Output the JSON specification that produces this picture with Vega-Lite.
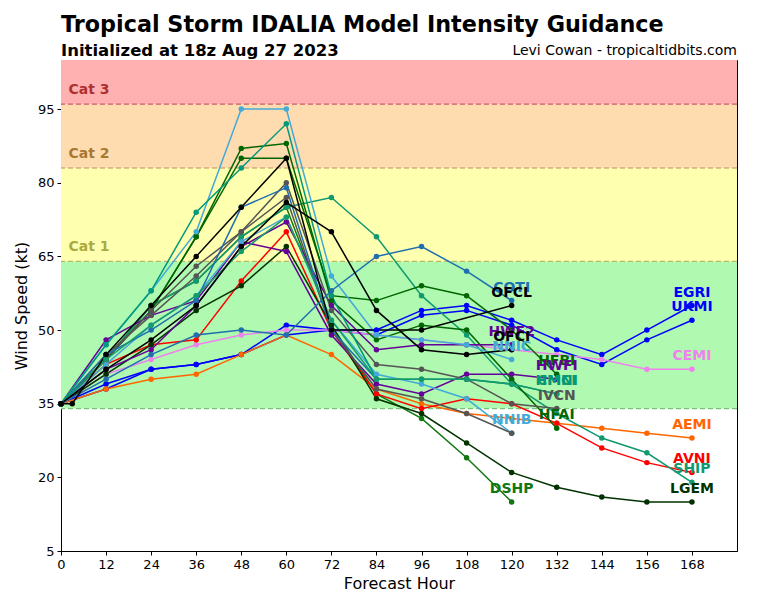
{
"$schema": "https://vega.github.io/schema/vega-lite/v6.json",
"width": 676, "height": 491,
"autosize": {"type": "none"},
"padding": {"left": 61, "top": 60, "right": 31, "bottom": 49},
"background": "white",
"config": {
  "font": "DejaVu Sans",
  "view": {"stroke": "black", "strokeWidth": 1},
  "axis": {"grid": false, "domainColor": "black", "tickColor": "black", "labelColor": "black", "titleColor": "black", "labelFontSize": 13, "titleFontSize": 16, "titleFontWeight": "normal", "tickSize": 4, "labelPadding": 3, "labelFlush": false, "labelOverlap": false}
},
"title": {"text": "Tropical Storm IDALIA Model Intensity Guidance", "subtitle": "Initialized at 18z Aug 27 2023", "anchor": "start", "frame": "group", "fontSize": 22.3, "fontWeight": "bold", "color": "black", "subtitleFontSize": 16.5, "subtitleFontWeight": "bold", "subtitleColor": "black", "offset": -15, "subtitlePadding": 6},
"datasets": {
  "bands": [
    {"band": "TS", "lo": 34, "hi": 64},
    {"band": "Cat 1", "lo": 64, "hi": 83},
    {"band": "Cat 2", "lo": 83, "hi": 96},
    {"band": "Cat 3", "lo": 96, "hi": 105}
  ],
  "lines": [
    {"m":"DSHP","h":0,"v":35},{"m":"DSHP","h":12,"v":44},{"m":"DSHP","h":24,"v":55},{"m":"DSHP","h":36,"v":60},{"m":"DSHP","h":48,"v":69},{"m":"DSHP","h":60,"v":75},{"m":"DSHP","h":72,"v":51},{"m":"DSHP","h":84,"v":37},{"m":"DSHP","h":96,"v":32},{"m":"DSHP","h":108,"v":24},{"m":"DSHP","h":120,"v":15},
    {"m":"EGRI","h":0,"v":35},{"m":"EGRI","h":12,"v":39},{"m":"EGRI","h":24,"v":42},{"m":"EGRI","h":36,"v":43},{"m":"EGRI","h":48,"v":45},{"m":"EGRI","h":60,"v":51},{"m":"EGRI","h":72,"v":50},{"m":"EGRI","h":84,"v":50},{"m":"EGRI","h":96,"v":54},{"m":"EGRI","h":108,"v":55},{"m":"EGRI","h":120,"v":52},{"m":"EGRI","h":132,"v":48},{"m":"EGRI","h":144,"v":45},{"m":"EGRI","h":156,"v":50},{"m":"EGRI","h":168,"v":55},
    {"m":"UKMI","h":0,"v":35},{"m":"UKMI","h":12,"v":38},{"m":"UKMI","h":24,"v":42},{"m":"UKMI","h":36,"v":43},{"m":"UKMI","h":48,"v":45},{"m":"UKMI","h":60,"v":49},{"m":"UKMI","h":72,"v":50},{"m":"UKMI","h":84,"v":49},{"m":"UKMI","h":96,"v":53},{"m":"UKMI","h":108,"v":54},{"m":"UKMI","h":120,"v":51},{"m":"UKMI","h":132,"v":46},{"m":"UKMI","h":144,"v":43},{"m":"UKMI","h":156,"v":48},{"m":"UKMI","h":168,"v":52},
    {"m":"CEMI","h":0,"v":35},{"m":"CEMI","h":12,"v":41},{"m":"CEMI","h":24,"v":44},{"m":"CEMI","h":36,"v":47},{"m":"CEMI","h":48,"v":49},{"m":"CEMI","h":60,"v":50},{"m":"CEMI","h":72,"v":50},{"m":"CEMI","h":84,"v":49},{"m":"CEMI","h":96,"v":48},{"m":"CEMI","h":108,"v":47},{"m":"CEMI","h":120,"v":46},{"m":"CEMI","h":132,"v":45},{"m":"CEMI","h":144,"v":44},{"m":"CEMI","h":156,"v":42},{"m":"CEMI","h":168,"v":42},
    {"m":"AEMI","h":0,"v":35},{"m":"AEMI","h":12,"v":38},{"m":"AEMI","h":24,"v":40},{"m":"AEMI","h":36,"v":41},{"m":"AEMI","h":48,"v":45},{"m":"AEMI","h":60,"v":49},{"m":"AEMI","h":72,"v":45},{"m":"AEMI","h":84,"v":38},{"m":"AEMI","h":96,"v":35},{"m":"AEMI","h":108,"v":33},{"m":"AEMI","h":120,"v":32},{"m":"AEMI","h":132,"v":31},{"m":"AEMI","h":144,"v":30},{"m":"AEMI","h":156,"v":29},{"m":"AEMI","h":168,"v":28},
    {"m":"AVNI","h":0,"v":35},{"m":"AVNI","h":12,"v":43},{"m":"AVNI","h":24,"v":47},{"m":"AVNI","h":36,"v":48},{"m":"AVNI","h":48,"v":60},{"m":"AVNI","h":60,"v":70},{"m":"AVNI","h":72,"v":50},{"m":"AVNI","h":84,"v":37},{"m":"AVNI","h":96,"v":34},{"m":"AVNI","h":108,"v":36},{"m":"AVNI","h":120,"v":35},{"m":"AVNI","h":132,"v":31},{"m":"AVNI","h":144,"v":26},{"m":"AVNI","h":156,"v":23},{"m":"AVNI","h":168,"v":21},
    {"m":"SHIP","h":0,"v":35},{"m":"SHIP","h":12,"v":44},{"m":"SHIP","h":24,"v":55},{"m":"SHIP","h":36,"v":60},{"m":"SHIP","h":48,"v":69},{"m":"SHIP","h":60,"v":75},{"m":"SHIP","h":72,"v":77},{"m":"SHIP","h":84,"v":69},{"m":"SHIP","h":96,"v":57},{"m":"SHIP","h":108,"v":49},{"m":"SHIP","h":120,"v":39},{"m":"SHIP","h":132,"v":33},{"m":"SHIP","h":144,"v":28},{"m":"SHIP","h":156,"v":25},{"m":"SHIP","h":168,"v":19},
    {"m":"LGEM","h":0,"v":35},{"m":"LGEM","h":12,"v":41},{"m":"LGEM","h":24,"v":47},{"m":"LGEM","h":36,"v":54},{"m":"LGEM","h":48,"v":59},{"m":"LGEM","h":60,"v":67},{"m":"LGEM","h":72,"v":51},{"m":"LGEM","h":84,"v":36},{"m":"LGEM","h":96,"v":33},{"m":"LGEM","h":108,"v":27},{"m":"LGEM","h":120,"v":21},{"m":"LGEM","h":132,"v":18},{"m":"LGEM","h":144,"v":16},{"m":"LGEM","h":156,"v":15},{"m":"LGEM","h":168,"v":15},
    {"m":"HFAI","h":0,"v":35},{"m":"HFAI","h":12,"v":44},{"m":"HFAI","h":24,"v":54},{"m":"HFAI","h":36,"v":69},{"m":"HFAI","h":48,"v":87},{"m":"HFAI","h":60,"v":88},{"m":"HFAI","h":72,"v":56},{"m":"HFAI","h":84,"v":48},{"m":"HFAI","h":96,"v":51},{"m":"HFAI","h":108,"v":50},{"m":"HFAI","h":120,"v":40},{"m":"HFAI","h":132,"v":30},
    {"m":"HFBI","h":0,"v":35},{"m":"HFBI","h":12,"v":44},{"m":"HFBI","h":24,"v":54},{"m":"HFBI","h":36,"v":69},{"m":"HFBI","h":48,"v":85},{"m":"HFBI","h":60,"v":85},{"m":"HFBI","h":72,"v":57},{"m":"HFBI","h":84,"v":56},{"m":"HFBI","h":96,"v":59},{"m":"HFBI","h":108,"v":57},{"m":"HFBI","h":120,"v":50},{"m":"HFBI","h":132,"v":41},
    {"m":"HWF2","h":0,"v":35},{"m":"HWF2","h":12,"v":42},{"m":"HWF2","h":24,"v":46},{"m":"HWF2","h":36,"v":55},{"m":"HWF2","h":48,"v":67},{"m":"HWF2","h":60,"v":72},{"m":"HWF2","h":72,"v":55},{"m":"HWF2","h":84,"v":46},{"m":"HWF2","h":96,"v":47},{"m":"HWF2","h":108,"v":47},{"m":"HWF2","h":120,"v":47},
    {"m":"HWFI","h":0,"v":35},{"m":"HWFI","h":12,"v":48},{"m":"HWFI","h":24,"v":53},{"m":"HWFI","h":36,"v":56},{"m":"HWFI","h":48,"v":68},{"m":"HWFI","h":60,"v":66},{"m":"HWFI","h":72,"v":49},{"m":"HWFI","h":84,"v":39},{"m":"HWFI","h":96,"v":37},{"m":"HWFI","h":108,"v":41},{"m":"HWFI","h":120,"v":41},{"m":"HWFI","h":132,"v":40},
    {"m":"NNIC","h":0,"v":35},{"m":"NNIC","h":12,"v":47},{"m":"NNIC","h":24,"v":58},{"m":"NNIC","h":36,"v":70},{"m":"NNIC","h":48,"v":95},{"m":"NNIC","h":60,"v":95},{"m":"NNIC","h":72,"v":61},{"m":"NNIC","h":84,"v":49},{"m":"NNIC","h":96,"v":48},{"m":"NNIC","h":108,"v":47},{"m":"NNIC","h":120,"v":44},
    {"m":"NNIB","h":0,"v":35},{"m":"NNIB","h":12,"v":43},{"m":"NNIB","h":24,"v":51},{"m":"NNIB","h":36,"v":57},{"m":"NNIB","h":48,"v":68},{"m":"NNIB","h":60,"v":73},{"m":"NNIB","h":72,"v":52},{"m":"NNIB","h":84,"v":41},{"m":"NNIB","h":96,"v":39},{"m":"NNIB","h":108,"v":36},{"m":"NNIB","h":120,"v":29},
    {"m":"IVCN","h":0,"v":35},{"m":"IVCN","h":12,"v":45},{"m":"IVCN","h":24,"v":53},{"m":"IVCN","h":36,"v":61},{"m":"IVCN","h":48,"v":70},{"m":"IVCN","h":60,"v":80},{"m":"IVCN","h":72,"v":54},{"m":"IVCN","h":84,"v":43},{"m":"IVCN","h":96,"v":42},{"m":"IVCN","h":108,"v":40},{"m":"IVCN","h":120,"v":35},{"m":"IVCN","h":132,"v":34},
    {"m":"ICON","h":0,"v":35},{"m":"ICON","h":12,"v":44},{"m":"ICON","h":24,"v":54},{"m":"ICON","h":36,"v":63},{"m":"ICON","h":48,"v":70},{"m":"ICON","h":60,"v":77},{"m":"ICON","h":72,"v":50},{"m":"ICON","h":84,"v":38},{"m":"ICON","h":96,"v":36},{"m":"ICON","h":108,"v":33},{"m":"ICON","h":120,"v":29},
    {"m":"COTI","h":0,"v":35},{"m":"COTI","h":12,"v":40},{"m":"COTI","h":24,"v":45},{"m":"COTI","h":36,"v":49},{"m":"COTI","h":48,"v":50},{"m":"COTI","h":60,"v":49},{"m":"COTI","h":72,"v":58},{"m":"COTI","h":84,"v":65},{"m":"COTI","h":96,"v":67},{"m":"COTI","h":108,"v":62},{"m":"COTI","h":120,"v":56},
    {"m":"CTCI","h":0,"v":35},{"m":"CTCI","h":12,"v":45},{"m":"CTCI","h":24,"v":50},{"m":"CTCI","h":36,"v":56},{"m":"CTCI","h":48,"v":75},{"m":"CTCI","h":60,"v":79},{"m":"CTCI","h":72,"v":50},{"m":"CTCI","h":84,"v":40},
    {"m":"HMNI","h":0,"v":35},{"m":"HMNI","h":12,"v":47},{"m":"HMNI","h":24,"v":58},{"m":"HMNI","h":36,"v":74},{"m":"HMNI","h":48,"v":83},{"m":"HMNI","h":60,"v":92},{"m":"HMNI","h":72,"v":57},{"m":"HMNI","h":84,"v":40},{"m":"HMNI","h":96,"v":40},{"m":"HMNI","h":108,"v":40},{"m":"HMNI","h":120,"v":39},{"m":"HMNI","h":132,"v":37},
    {"m":"CMCI","h":0,"v":35},{"m":"CMCI","h":12,"v":44},{"m":"CMCI","h":24,"v":51},{"m":"CMCI","h":36,"v":57},{"m":"CMCI","h":48,"v":66},{"m":"CMCI","h":60,"v":73},{"m":"CMCI","h":72,"v":52},{"m":"CMCI","h":84,"v":40},{"m":"CMCI","h":96,"v":40},{"m":"CMCI","h":108,"v":40},{"m":"CMCI","h":120,"v":39},{"m":"CMCI","h":132,"v":37},
    {"m":"OFCI","h":0,"v":35},{"m":"OFCI","h":12,"v":42},{"m":"OFCI","h":24,"v":48},{"m":"OFCI","h":36,"v":55},{"m":"OFCI","h":48,"v":67},{"m":"OFCI","h":60,"v":76},{"m":"OFCI","h":72,"v":70},{"m":"OFCI","h":84,"v":54},{"m":"OFCI","h":96,"v":46},{"m":"OFCI","h":108,"v":45},{"m":"OFCI","h":120,"v":46},
    {"m":"OFCL","h":0,"v":35},{"m":"OFCL","h":3,"v":35},{"m":"OFCL","h":12,"v":45},{"m":"OFCL","h":24,"v":55},{"m":"OFCL","h":36,"v":65},{"m":"OFCL","h":48,"v":75},{"m":"OFCL","h":60,"v":85},{"m":"OFCL","h":72,"v":50},{"m":"OFCL","h":96,"v":50},{"m":"OFCL","h":120,"v":55}
  ],
  "labels": [
    {"m":"COTI","h":120,"v":56},{"m":"OFCL","h":120,"v":55},{"m":"HWF2","h":120,"v":47},{"m":"OFCI","h":120,"v":46},{"m":"NNIC","h":120,"v":44},{"m":"NNIB","h":120,"v":29},{"m":"DSHP","h":120,"v":15},
    {"m":"HFBI","h":132,"v":41},{"m":"HWFI","h":132,"v":40},{"m":"CMCI","h":132,"v":37},{"m":"HMNI","h":132,"v":37},{"m":"IVCN","h":132,"v":34},{"m":"HFAI","h":132,"v":30},
    {"m":"EGRI","h":168,"v":55},{"m":"UKMI","h":168,"v":52},{"m":"CEMI","h":168,"v":42},{"m":"AEMI","h":168,"v":28},{"m":"AVNI","h":168,"v":21},{"m":"SHIP","h":168,"v":19},{"m":"LGEM","h":168,"v":15}
  ],
  "cats": [
    {"m": "Cat 1", "lo": 64},
    {"m": "Cat 2", "lo": 83},
    {"m": "Cat 3", "lo": 96}
  ],
  "credit": [{"t": "Levi Cowan - tropicaltidbits.com"}]
},
"layer": [
  {
    "data": {"name": "bands"},
    "mark": {"type": "rect"},
    "encoding": {
      "x": {"datum": 0, "type": "quantitative", "scale": {"domain": [0, 180], "nice": false}},
      "x2": {"datum": 180},
      "y": {"field": "lo", "type": "quantitative", "scale": {"domain": [5, 105], "nice": false}},
      "y2": {"field": "hi"},
      "fill": {"field": "band", "type": "nominal", "legend": null, "scale": {"domain": ["TS", "Cat 1", "Cat 2", "Cat 3"], "range": ["#b0f9b0", "#ffffb0", "#ffdcb0", "#ffb0b0"]}}
    }
  },
  {
    "data": {"name": "bands"},
    "mark": {"type": "rule", "strokeDash": [5, 3], "strokeWidth": 1.2},
    "encoding": {
      "y": {"field": "lo", "type": "quantitative"},
      "stroke": {"field": "band", "type": "nominal", "legend": null, "scale": {"domain": ["TS", "Cat 1", "Cat 2", "Cat 3"], "range": ["#7cbf7c", "#b8b860", "#bb9060", "#c86060"]}}
    }
  },
  {
    "data": {"name": "cats"},
    "mark": {"type": "text", "align": "left", "baseline": "alphabetic", "dy": -10, "fontSize": 14, "fontWeight": "bold"},
    "encoding": {
      "x": {"datum": 2, "type": "quantitative"},
      "y": {"field": "lo", "type": "quantitative"},
      "text": {"field": "m"},
      "color": {"field": "m", "type": "nominal", "legend": null, "scale": {"domain": ["OFCL","OFCI","COTI","CTCI","EGRI","UKMI","CEMI","AEMI","AVNI","SHIP","DSHP","LGEM","HFAI","HFBI","HWF2","HWFI","NNIC","NNIB","IVCN","ICON","HMNI","CMCI","Cat 1","Cat 2","Cat 3"], "range": ["#000000","#000000","#1f6fb0","#1f6fb0","#0000ff","#0000ff","#ee82ee","#ff6600","#ff0000","#119970","#117711","#003300","#006600","#006600","#660099","#660099","#44aad8","#44aad8","#555555","#555555","#00997a","#159a6a","#aaaa40","#a87830","#b03030"]}}
    }
  },
  {
    "data": {"name": "lines"},
    "layer": [
      {"mark": {"type": "line", "strokeWidth": 1.5}},
      {"mark": {"type": "point", "filled": true, "size": 30, "opacity": 1}}
    ],
    "encoding": {
      "x": {"field": "h", "type": "quantitative", "scale": {"domain": [0, 180], "nice": false}, "axis": {"values": [0, 12, 24, 36, 48, 60, 72, 84, 96, 108, 120, 132, 144, 156, 168], "title": "Forecast Hour"}},
      "y": {"field": "v", "type": "quantitative", "scale": {"domain": [5, 105], "nice": false}, "axis": {"values": [5, 20, 35, 50, 65, 80, 95], "title": "Wind Speed (kt)", "titlePadding": 8}},
      "color": {"field": "m", "type": "nominal", "legend": null, "scale": {"domain": ["OFCL","OFCI","COTI","CTCI","EGRI","UKMI","CEMI","AEMI","AVNI","SHIP","DSHP","LGEM","HFAI","HFBI","HWF2","HWFI","NNIC","NNIB","IVCN","ICON","HMNI","CMCI","Cat 1","Cat 2","Cat 3"], "range": ["#000000","#000000","#1f6fb0","#1f6fb0","#0000ff","#0000ff","#ee82ee","#ff6600","#ff0000","#119970","#117711","#003300","#006600","#006600","#660099","#660099","#44aad8","#44aad8","#555555","#555555","#00997a","#159a6a","#aaaa40","#a87830","#b03030"]}}
    }
  },
  {
    "data": {"name": "labels"},
    "mark": {"type": "text", "align": "center", "baseline": "middle", "dy": -13, "fontSize": 14, "fontWeight": "bold"},
    "encoding": {
      "x": {"field": "h", "type": "quantitative"},
      "y": {"field": "v", "type": "quantitative"},
      "text": {"field": "m"},
      "color": {"field": "m", "type": "nominal", "legend": null, "scale": {"domain": ["OFCL","OFCI","COTI","CTCI","EGRI","UKMI","CEMI","AEMI","AVNI","SHIP","DSHP","LGEM","HFAI","HFBI","HWF2","HWFI","NNIC","NNIB","IVCN","ICON","HMNI","CMCI","Cat 1","Cat 2","Cat 3"], "range": ["#000000","#000000","#1f6fb0","#1f6fb0","#0000ff","#0000ff","#ee82ee","#ff6600","#ff0000","#119970","#117711","#003300","#006600","#006600","#660099","#660099","#44aad8","#44aad8","#555555","#555555","#00997a","#159a6a","#aaaa40","#a87830","#b03030"]}}
    }
  },
  {
    "data": {"name": "credit"},
    "mark": {"type": "text", "align": "right", "baseline": "alphabetic", "dy": -5, "fontSize": 14, "color": "black"},
    "encoding": {
      "x": {"datum": 180, "type": "quantitative"},
      "y": {"datum": 105, "type": "quantitative"},
      "text": {"field": "t"}
    }
  }
]
}
